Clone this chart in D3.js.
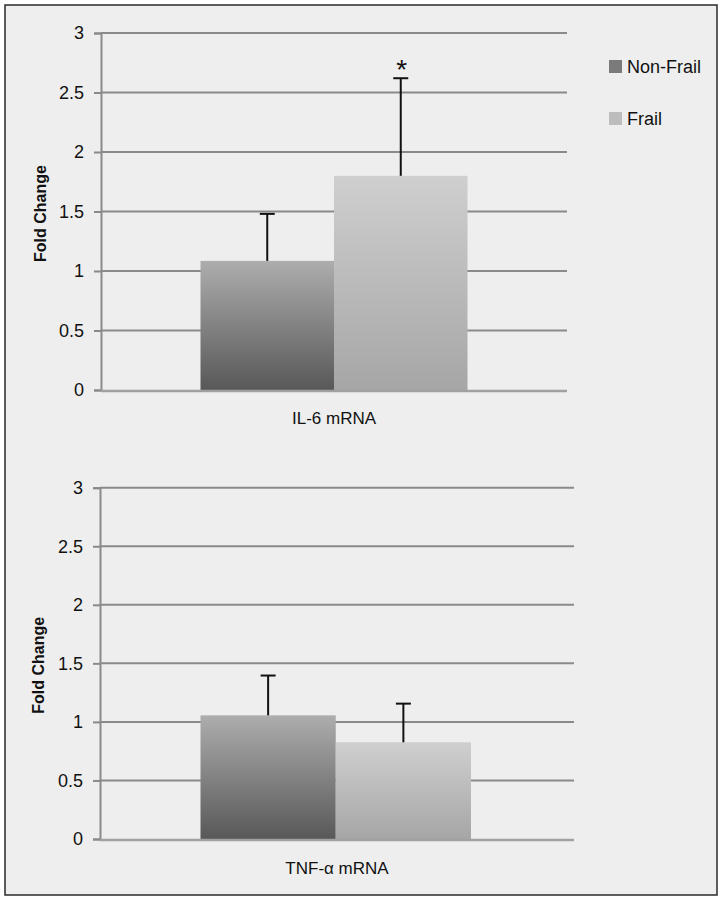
<!DOCTYPE html>
<html>
<head>
<meta charset="utf-8">
<script src="https://cdn.jsdelivr.net/npm/d3@7"></script>
<style>
  body { margin: 0; background: #fff; }
  svg { display: block; font-family: "Liberation Sans", Arial, sans-serif; }
</style>
</head>
<body>
<div class="chart"></div>
<script>
// data
const groups = ['Non-Frail', 'Frail'];
const genes = ['IL-6 mRNA', 'TNF-\u03b1 mRNA'];
const nonFrailMean = [1.085, 1.056];
const nonFrailErr = [0.395, 0.34];
const frailMean = [1.80, 0.826];
const frailErr = [0.82, 0.33];
const frailStar = ['*', ''];
const yTicks = [0, 0.5, 1, 1.5, 2, 2.5, 3];

// layout of each panel (pixels)
const panels = [
    {top: 33, bottom: 390, axisX: 101, gridEnd: 567, barL: 200.5, barR: 467.5, labelY: 424},
    {top: 487.7, bottom: 839, axisX: 100, gridEnd: 574, barL: 200.5, barR: 471, labelY: 874},
];

const W = 721, H = 900;
const svg = d3.select('.chart').append('svg')
    .attr('width', W)
    .attr('height', H);

// gradients for bars
const defs = svg.append('defs');
const grads = [
    {id: 'g-nonfrail', top: '#adadad', bottom: '#585858'},
    {id: 'g-frail', top: '#cfcfcf', bottom: '#a6a6a6'},
];
grads.forEach(g => {
    const lg = defs.append('linearGradient')
        .attr('id', g.id)
        .attr('x1', 0).attr('y1', 0).attr('x2', 0).attr('y2', 1);
    lg.append('stop').attr('offset', '0%').attr('stop-color', g.top);
    lg.append('stop').attr('offset', '100%').attr('stop-color', g.bottom);
});
const fills = ['url(#g-nonfrail)', 'url(#g-frail)'];
const legendFills = ['#7a7a7a', '#bdbdbd'];

// background + border
svg.append('rect')
    .attr('x', 5).attr('y', 5)
    .attr('width', 712).attr('height', 890)
    .attr('fill', '#eeeeee')
    .attr('stroke', '#2a2a2a')
    .attr('stroke-width', 1.5);

panels.forEach((p, i) => {
    const g = svg.append('g');

    const y = d3.scaleLinear()
        .domain([0, 3])
        .range([p.bottom, p.top]);

    const x = d3.scaleBand()
        .domain(groups)
        .range([p.barL, p.barR])
        .padding(0);

    // gridlines
    g.append('g')
        .selectAll('line')
        .data(yTicks.filter(t => t > 0))
        .join('line')
        .attr('x1', p.axisX).attr('x2', p.gridEnd)
        .attr('y1', d => y(d)).attr('y2', d => y(d))
        .attr('stroke', '#8a8a8a')
        .attr('stroke-width', 2);

    // y axis
    const yAxis = g.append('g')
        .attr('transform', `translate(${p.axisX},0)`)
        .call(d3.axisLeft(y).tickValues(yTicks).tickSize(7).tickPadding(10).tickFormat(d3.format('')));
    yAxis.select('.domain').attr('stroke', '#8a8a8a').attr('stroke-width', 2);
    yAxis.selectAll('.tick line').attr('stroke', '#8a8a8a').attr('stroke-width', 2);
    yAxis.selectAll('.tick text')
        .attr('font-size', 18)
        .attr('fill', '#111')
        .attr('font-family', '"Liberation Sans", Arial, sans-serif');

    const vals = [nonFrailMean[i], frailMean[i]];
    const errs = [nonFrailErr[i], frailErr[i]];

    // bars
    g.append('g')
        .selectAll('rect')
        .data(groups)
        .join('rect')
        .attr('x', d => x(d))
        .attr('y', (d, j) => y(vals[j]))
        .attr('width', x.bandwidth())
        .attr('height', (d, j) => y(0) - y(vals[j]))
        .attr('fill', (d, j) => fills[j]);

    // zero line over bars
    g.append('line')
        .attr('x1', p.axisX).attr('x2', p.gridEnd)
        .attr('y1', y(0) + 1).attr('y2', y(0) + 1)
        .attr('stroke', '#a0a0a0')
        .attr('stroke-width', 2.5);

    // error bars
    const eb = g.append('g')
        .selectAll('g')
        .data(groups)
        .join('g')
        .attr('transform', d => `translate(${x(d) + x.bandwidth() / 2},0)`);
    eb.append('line')
        .attr('y1', (d, j) => y(vals[j]))
        .attr('y2', (d, j) => y(vals[j] + errs[j]))
        .attr('stroke', '#111')
        .attr('stroke-width', 2);
    eb.append('line')
        .attr('x1', -7.5).attr('x2', 7.5)
        .attr('y1', (d, j) => y(vals[j] + errs[j]))
        .attr('y2', (d, j) => y(vals[j] + errs[j]))
        .attr('stroke', '#111')
        .attr('stroke-width', 2);

    // significance star
    if (frailStar[i]) {
        g.append('text')
            .attr('x', x('Frail') + x.bandwidth() / 2 + 1)
            .attr('y', y(frailMean[i] + frailErr[i]) + 1)
            .attr('text-anchor', 'middle')
            .attr('font-size', 28)
            .attr('fill', '#111')
            .text(frailStar[i]);
    }

    // category label
    g.append('text')
        .attr('x', (p.axisX + p.gridEnd) / 2)
        .attr('y', p.labelY)
        .attr('text-anchor', 'middle')
        .attr('font-size', 17)
        .attr('fill', '#111')
        .text(genes[i]);

    // y title
    g.append('text')
        .attr('transform', `translate(${46 - i * 2},${(p.top + p.bottom) / 2 + 2}) rotate(-90)`)
        .attr('text-anchor', 'middle')
        .attr('font-size', 16)
        .attr('font-weight', 'bold')
        .attr('fill', '#111')
        .text('Fold Change');
});

// legend
const legend = svg.append('g')
    .selectAll('g')
    .data(groups)
    .join('g')
    .attr('transform', (d, j) => `translate(609,${60 + j * 52})`);
legend.append('rect')
    .attr('width', 13).attr('height', 13)
    .attr('fill', (d, j) => legendFills[j]);
legend.append('text')
    .attr('x', 18).attr('y', 12.5)
    .attr('font-size', 18)
    .attr('fill', '#111')
    .text(d => d);
</script>
</body>
</html>
